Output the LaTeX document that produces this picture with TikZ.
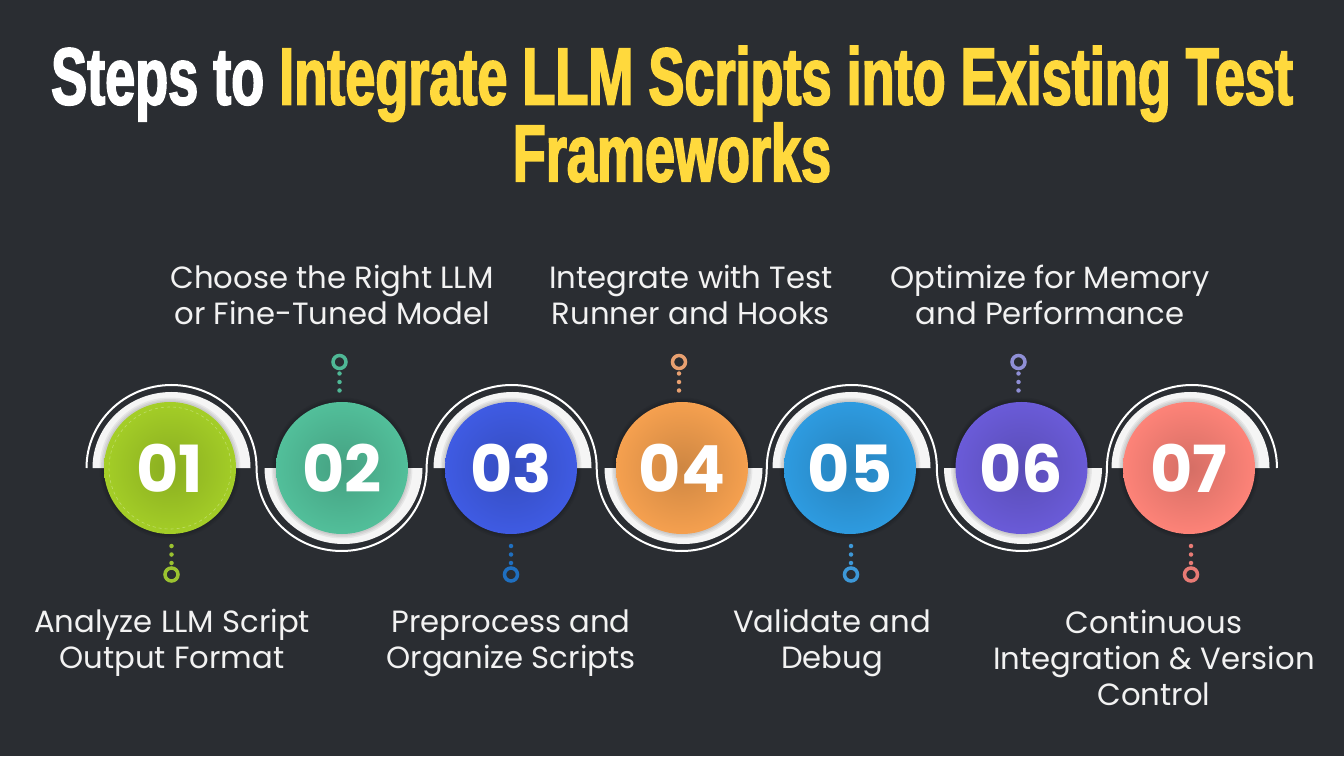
\documentclass[tikz,border=0pt]{standalone}
\usepackage{xcolor}
\usepackage{fontspec}
\setmainfont{Poppins}
\newfontfamily\titlefont[FakeStretch=0.667,FakeBold=2]{Liberation Sans Bold}
\usetikzlibrary{positioning}
\definecolor{bgdark}{HTML}{2A2D32}
\definecolor{titleyellow}{HTML}{FFD93D}
\definecolor{labelgray}{HTML}{F2F2F2}
\definecolor{cone}{HTML}{A4CE27}
\definecolor{ctwo}{HTML}{52BF9A}
\definecolor{cthree}{HTML}{3F5BE3}
\definecolor{cfour}{HTML}{F5A04F}
\definecolor{cfive}{HTML}{2E9BE0}
\definecolor{csix}{HTML}{6A5BD8}
\definecolor{cseven}{HTML}{FD8378}
\definecolor{rone}{HTML}{9BC230}
\definecolor{rtwo}{HTML}{4FB896}
\definecolor{rthree}{HTML}{1F6FC0}
\definecolor{rfour}{HTML}{E8A070}
\definecolor{rfive}{HTML}{3D98D8}
\definecolor{rsix}{HTML}{8F8FD6}
\definecolor{rseven}{HTML}{E87B75}
\begin{document}
\begin{tikzpicture}[
    x=1pt, y=1pt,
    every node/.style = {inner sep=0pt, outer sep=0pt},
    stepcircle/.style = {circle, minimum size=132pt, text=white,
        font=\fontsize{65}{65}\selectfont\bfseries},
    ringnode/.style = {circle, draw, line width=3.5pt, minimum size=13pt},
    dotline/.style = {line width=4.5pt, line cap=round, dash pattern=on 0pt off 8.5pt,
        shorten <=5pt, shorten >=10pt},
    steplabel/.style = {align=center, text=labelgray,
        font=\fontsize{30.7}{36}\selectfont},
    titletext/.style = {align=center, text=white,
        font=\titlefont\fontsize{81}{75}\selectfont}
  ]
    \fill[bgdark] (0,0) rectangle (1344,756);
    \node[titletext] (title) at (672,642) {Steps to \textcolor{titleyellow}{Integrate LLM Scripts into Existing Test}\\
        \textcolor{titleyellow}{Frameworks}};
    % white half discs, the round line and the circles
    \foreach \i/\cx/\fillcol/\ringcol/\rx in {
        1/170/cone/rone/171.5, 2/342/ctwo/rtwo/339.5, 3/511/cthree/rthree/511,
        4/682/cfour/rfour/679, 5/850/cfive/rfive/851, 6/1021.5/csix/rsix/1018.5,
        7/1189/cseven/rseven/1191} {
      \pgfmathsetmacro{\jx}{86.5+170.07*(\i-1)}
      \pgfmathsetmacro{\hx}{\cx+1.5}
      \ifodd\i
        \fill[white!96!black] (\hx-79,288) arc[start angle=180, end angle=0, x radius=79, y radius=76] -- cycle;
        \draw[white, line width=2pt] (\jx,288) arc[start angle=180, end angle=0, x radius=85.03, y radius=83];
      \else
        \fill[white!96!black] (\hx-79,288) arc[start angle=180, end angle=360, x radius=79, y radius=76] -- cycle;
        \draw[white, line width=2pt] (\jx,288) arc[start angle=180, end angle=360, x radius=85.03, y radius=83];
      \fi
      \foreach \k in {1,...,3}
        \fill[black, opacity=0.06] (\cx,288) circle[radius=66+1.5*\k];
      \node[stepcircle, shade, inner color=\fillcol!84!black, outer color=\fillcol] (c\i) at (\cx,288) {\raisebox{-2pt}{0\i}};
      \ifodd\i
        \node[ringnode, draw=\ringcol] (r\i) at (\rx,181.5) {};
      \else
        \node[ringnode, draw=\ringcol] (r\i) at (\rx,394) {};
      \fi
      \ifodd\i
        \draw[\ringcol, dotline] (r\i) -- (r\i |- c\i.south);
      \else
        \draw[\ringcol, dotline] (r\i) -- (r\i |- c\i.north);
      \fi
    }
    \draw[cone!70!white, line width=0.6pt, dashed] (c1) circle[radius=61];
    % the labels
    \node[steplabel] (lone) at (172,113) {Analyze LLM Script\\Output Format};
    \node[steplabel] (ltwo) at (332,461) {Choose the Right LLM\\or Fine-Tuned Model};
    \node[steplabel] (lthree) at (511,113) {Preprocess and\\Organize Scripts};
    \node[steplabel] (lfour) at (691,461) {Integrate with Test\\Runner and Hooks};
    \node[steplabel] (lfive) at (832,113) {Validate and\\Debug};
    \node[steplabel] (lsix) at (1050,461) {Optimize for Memory\\and Performance};
    \node[steplabel] (lseven) at (1154,98) {Continuous\\Integration \& Version\\Control};
\end{tikzpicture}
\end{document}
